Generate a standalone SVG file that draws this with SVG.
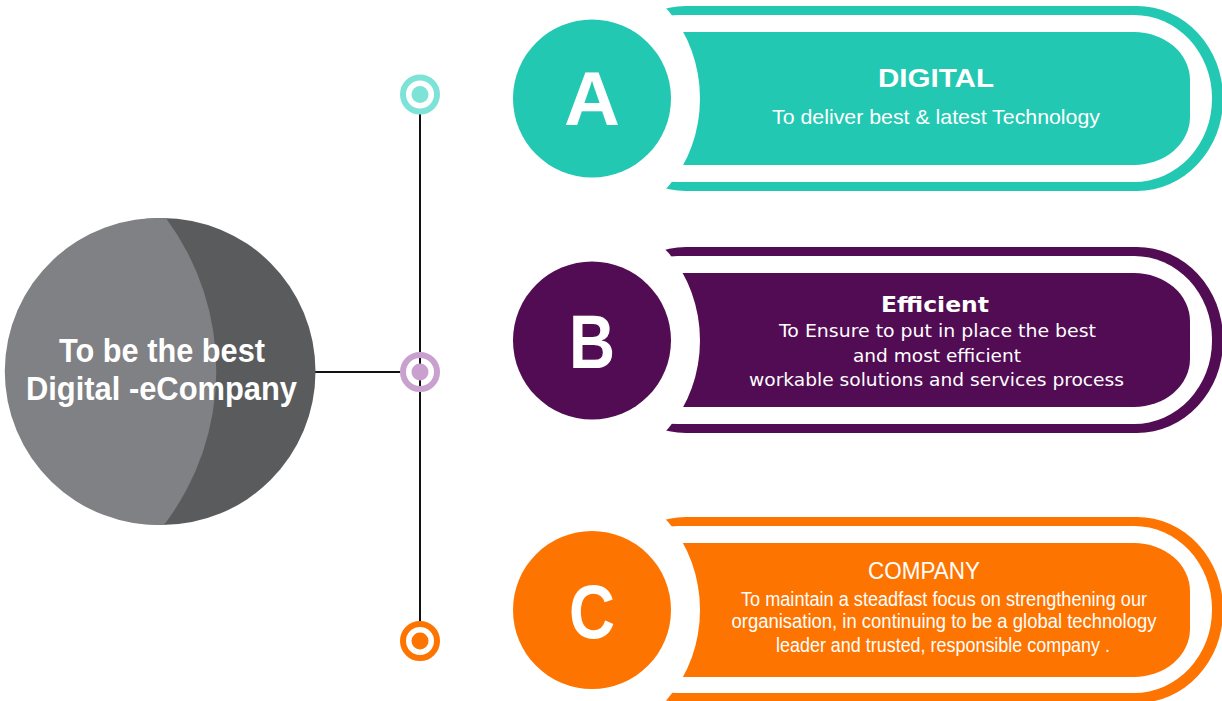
<svg xmlns="http://www.w3.org/2000/svg" width="1222" height="701" viewBox="0 0 1222 701">
<style>
.w{fill:#fff}
.t{font-family:"Liberation Sans",Arial,sans-serif;fill:#fff;text-anchor:middle}
.d{font-family:"DejaVu Sans",Verdana,sans-serif;fill:#fff;text-anchor:middle}
.b{font-weight:bold}
.big{font-family:"Liberation Sans",Arial,sans-serif;font-weight:bold;font-size:76px;fill:#fff;text-anchor:middle}
.teal{fill:#22C8B2}
.purple{fill:#520C54}
.orange{fill:#FE7400}
</style>
<rect width="1222" height="701" fill="#fff"/>

<g id="connectors" stroke="#111" stroke-width="2" fill="none">
  <line x1="420" y1="114" x2="420" y2="622"/>
  <line x1="314" y1="372" x2="400" y2="372"/>
</g>

<g id="main">
  <circle cx="162" cy="371.5" r="153.5" fill="#5A5B5D"/>
  <path d="M166,218.2 A153.5,153.5 0 1 0 164,524.9 A255,255 0 0 0 166,218.2 Z" fill="#808184"/>
  <text class="t b" x="162" y="362" font-size="33" textLength="206" lengthAdjust="spacingAndGlyphs">To be the best</text>
  <text class="t b" x="161.5" y="400" font-size="33" textLength="271" lengthAdjust="spacingAndGlyphs">Digital -eCompany</text>
</g>

<g id="dotA">
  <circle cx="420" cy="94.5" r="17" fill="none" stroke="#7DE3D6" stroke-width="6"/>
  <circle cx="420" cy="94.5" r="8.5" fill="#7DE3D6"/>
</g>
<g id="dotB">
  <circle cx="420" cy="372" r="17" fill="none" stroke="#C9A1CF" stroke-width="6"/>
  <circle cx="420" cy="372" r="8.5" fill="#C9A1CF"/>
</g>
<g id="dotC">
  <circle cx="420" cy="641" r="17" fill="#fff" stroke="#FE7400" stroke-width="6"/>
  <circle cx="420" cy="641" r="8.5" fill="#FE7400"/>
</g>

<g id="nodeA">
  <rect class="teal" x="600" y="6" width="623" height="185" rx="86" ry="92"/>
  <rect class="w" x="600" y="15" width="612" height="167" rx="78" ry="83"/>
  <rect class="teal" x="620" y="32" width="570" height="133" rx="56" ry="48"/>
  <ellipse class="w" cx="592" cy="98.5" rx="108" ry="124"/>
  <circle class="teal" cx="592" cy="98.5" r="79"/>
  <text class="big" x="592" y="125" textLength="56" lengthAdjust="spacingAndGlyphs">A</text>
  <text class="t b" x="936" y="87" font-size="25" textLength="116" lengthAdjust="spacingAndGlyphs">DIGITAL</text>
  <text class="t" x="936" y="124" font-size="21" textLength="328" lengthAdjust="spacingAndGlyphs">To deliver best &amp; latest Technology</text>
</g>

<g id="nodeB">
  <rect class="purple" x="600" y="247" width="623" height="186" rx="86" ry="92"/>
  <rect class="w" x="600" y="256" width="612" height="168" rx="78" ry="83"/>
  <rect class="purple" x="620" y="273" width="570" height="134" rx="56" ry="48"/>
  <ellipse class="w" cx="592" cy="340.5" rx="108" ry="124"/>
  <circle class="purple" cx="592" cy="340.5" r="79"/>
  <text class="big" x="592" y="368" textLength="46" lengthAdjust="spacingAndGlyphs">B</text>
  <text class="d b" x="935" y="312" font-size="22" textLength="108" lengthAdjust="spacingAndGlyphs">Efficient</text>
  <text class="d" x="937.5" y="337" font-size="18" textLength="317" lengthAdjust="spacingAndGlyphs">To Ensure to put in place the best</text>
  <text class="d" x="937" y="362" font-size="18" textLength="168" lengthAdjust="spacingAndGlyphs">and most efficient</text>
  <text class="d" x="936.5" y="386" font-size="18" textLength="375" lengthAdjust="spacingAndGlyphs">workable solutions and services process</text>
</g>

<g id="nodeC">
  <rect class="orange" x="600" y="517" width="623" height="186" rx="86" ry="92"/>
  <rect class="w" x="600" y="526" width="612" height="167" rx="78" ry="83"/>
  <rect class="orange" x="620" y="543" width="570" height="134" rx="56" ry="48"/>
  <ellipse class="w" cx="592" cy="610" rx="108" ry="124"/>
  <circle class="orange" cx="592" cy="610" r="79"/>
  <text class="big" x="592" y="638" textLength="46" lengthAdjust="spacingAndGlyphs">C</text>
  <text class="t" x="924" y="579" font-size="24" textLength="112" lengthAdjust="spacingAndGlyphs">COMPANY</text>
  <text class="t" x="944" y="606" font-size="20" textLength="406" lengthAdjust="spacingAndGlyphs">To maintain a steadfast focus on strengthening our</text>
  <text class="t" x="944" y="628" font-size="20" textLength="425" lengthAdjust="spacingAndGlyphs">organisation, in continuing to be a global technology</text>
  <text class="t" x="943" y="652" font-size="20" textLength="334" lengthAdjust="spacingAndGlyphs">leader and trusted, responsible company .</text>
</g>
</svg>
